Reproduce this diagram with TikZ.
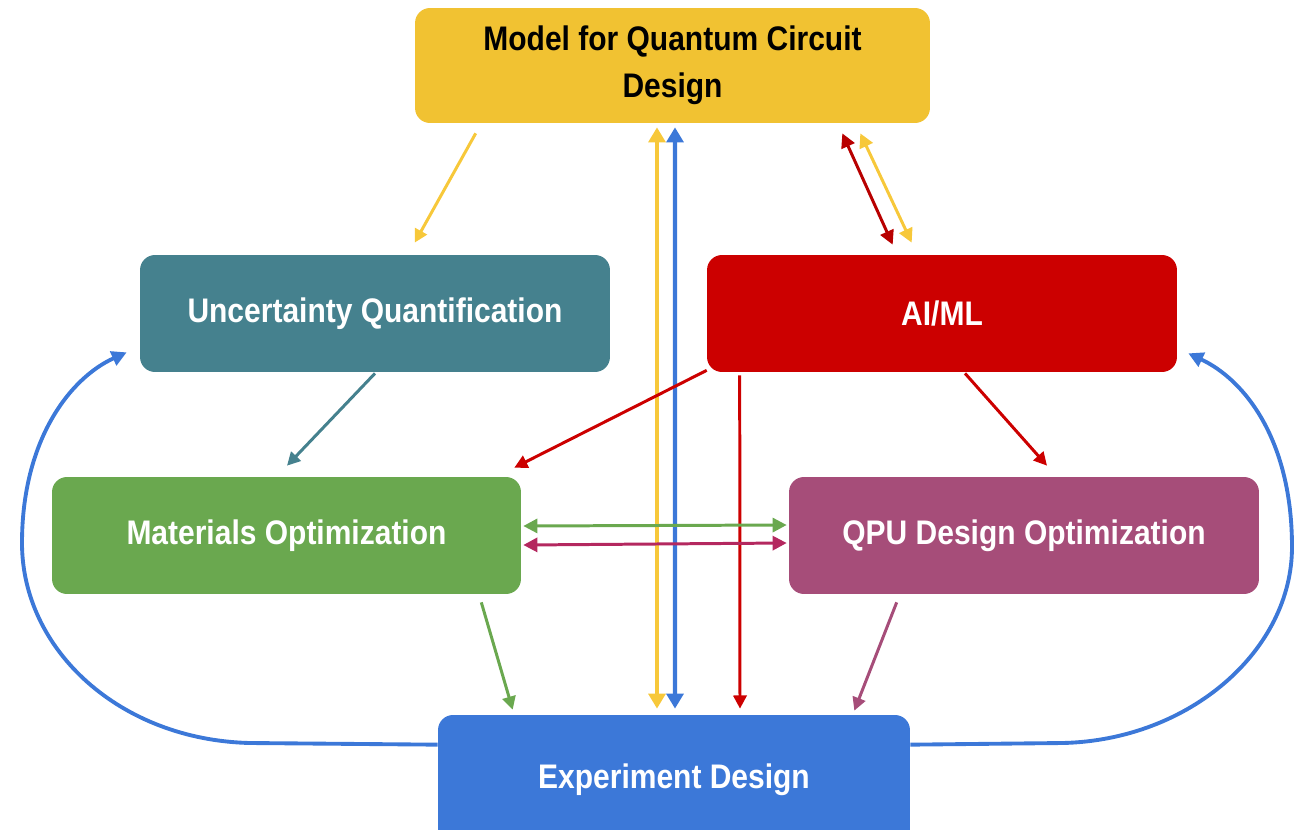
\documentclass[tikz,border=0pt]{standalone}
\usepackage{fontspec}
\setmainfont{Liberation Sans}[FakeStretch=0.88]
\usetikzlibrary{arrows.meta,calc}
\definecolor{cYel}{HTML}{F1C232}
\definecolor{cYelA}{HTML}{F7C83A}
\definecolor{cTeal}{HTML}{45818E}
\definecolor{cRed}{HTML}{CC0000}
\definecolor{cGreen}{HTML}{6AA84F}
\definecolor{cPurple}{HTML}{A64D79}
\definecolor{cMag}{HTML}{B4285F}
\definecolor{cBlue}{HTML}{3C78D8}
\begin{document}
\begin{tikzpicture}[x=0.02cm,y=-0.02cm,
  box/.style={rounded corners=8.5pt, inner sep=0pt, align=center, text=white,
    font=\bfseries\fontsize{19.4}{26.8}\selectfont},
  arr/.style={line width=1.7pt, -{Triangle[length=7.5pt,width=7.5pt]}},
  darr/.style={line width=1.7pt, {Triangle[length=8pt,width=8pt]}-{Triangle[length=8pt,width=8pt]}},
  varr/.style={line width=2.4pt, {Triangle[length=8.5pt,width=9.5pt]}-{Triangle[length=8.5pt,width=9.5pt]}},
  curve/.style={line width=2.2pt, cBlue, -{Triangle[length=8.5pt,width=8.5pt]}}
]
\useasboundingbox (0,0) rectangle (1309,829);
\clip (0,0) rectangle (1309,829);

\node[box, fill=cYel, text=black, minimum width=10.3cm, minimum height=2.3cm] (model) at (672.5,65.5) {Model for Quantum Circuit\\Design};
\node[box, fill=cTeal, minimum width=9.4cm, minimum height=2.34cm] (uq) at (375,313.5) {Uncertainty Quantification};
\node[box, fill=cRed, minimum width=9.4cm, minimum height=2.34cm] (ai) at (942,313.5) {AI/ML};
\node[box, fill=cGreen, minimum width=9.38cm, minimum height=2.34cm] (mat) at (286.5,535.5) {Materials Optimization};
\node[box, fill=cPurple, minimum width=9.4cm, minimum height=2.34cm] (qpu) at (1024,535.5) {QPU Design Optimization};
\node[box, fill=cBlue, minimum width=9.44cm, minimum height=2.6cm] (exp) at (674,780) {Experiment Design};

% model -> uq
\draw[arr, cYelA] ($(model.south west)+(61,10)$) -- ($(uq.north west)+(275,-12)$);
% vertical model <-> exp
\draw[varr, cYelA] ($(model.south)+(-15.5,4)$) -- ($(exp.north)+(-17,-6)$);
\draw[varr, cBlue] ($(model.south)+(2.5,4)$) -- ($(exp.north)+(1,-6)$);
% model <-> ai
\draw[darr, cRed!90!black] ($(model.south east)+(-88,10)$) -- ($(ai.north west)+(186,-10)$);
\draw[darr, cYelA] ($(model.south east)+(-70,10)$) -- ($(ai.north west)+(205,-12)$);
% ai -> others
\draw[arr, cRed] ($(ai.south west)+(0,-2)$) -- ($(mat.north east)+(-7,-9)$);
\draw[arr, cRed] ($(ai.south west)+(33,3)$) -- ($(exp.north)+(66,-6)$);
\draw[arr, cRed] ($(ai.south)+(23,1)$) -- ($(qpu.north)+(23,-11)$);
% uq -> mat
\draw[arr, cTeal] ($(uq.south)+(0,1)$) -- ($(mat.north)+(0.5,-11)$);
% mat <-> qpu
\draw[darr, cGreen] ($(mat.east)+(2,-9.5)$) -- ($(qpu.west)+(-2,-10.5)$);
\draw[darr, cMag] ($(mat.east)+(2,9.5)$) -- ($(qpu.west)+(-2,7.5)$);
% to experiment
\draw[arr, cGreen] ($(mat.south east)+(-40,8)$) -- ($(exp.north west)+(75,-5)$);
\draw[arr, cPurple] ($(qpu.south west)+(108,8)$) -- ($(exp.north east)+(-56,-4)$);
% feedback curves
\draw[curve] ($(exp.north west)+(0,30)$) -- (250,743) .. controls (120,740) and (22,650) .. (22,543) .. controls (22,440) and (70,378) .. ($(uq.south west)+(-13,-20)$);
\draw[curve] ($(exp.north east)+(0,30)$) -- (1063,743) .. controls (1190,740) and (1292,650) .. (1292,547) .. controls (1292,440) and (1245,380) .. ($(ai.south east)+(11,-19)$);
\end{tikzpicture}
\end{document}
